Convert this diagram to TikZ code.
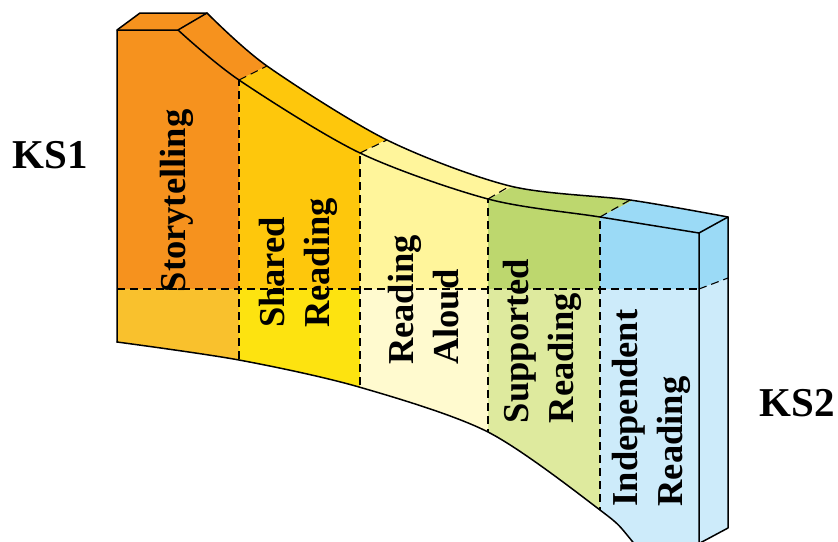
\documentclass[tikz,border=0pt]{standalone}
\usepackage{fontspec}
\setmainfont{Liberation Serif}
\definecolor{cAt}{RGB}{246,146,30}
\definecolor{cAb}{RGB}{249,193,45}
\definecolor{cBt}{RGB}{254,199,12}
\definecolor{cBb}{RGB}{253,227,16}
\definecolor{cCt}{RGB}{255,245,155}
\definecolor{cCb}{RGB}{255,250,207}
\definecolor{cDt}{RGB}{189,215,110}
\definecolor{cDb}{RGB}{222,234,158}
\definecolor{cEt}{RGB}{155,218,246}
\definecolor{cEb}{RGB}{205,235,250}
\begin{document}
\begin{tikzpicture}[x=1pt,y=-1pt,
  edge/.style={line width=1.5pt, line join=round, line cap=round},
  dline/.style={line width=1.1pt, dash pattern=on 8pt off 5pt},
  lbl/.style={rotate=90, align=left, inner sep=0pt, font=\fontsize{36.5}{45}\selectfont\bfseries},
  ks/.style={inner sep=0pt, font=\fontsize{41}{44}\selectfont\bfseries}]
\useasboundingbox (0,0) rectangle (838,541);
\clip (0,0) rectangle (838,541);
% ---------- front face ----------
\begin{scope}
\clip (117,30) -- (178,30) -- plot[smooth] coordinates {(178,30) (239,80) (360,153) (488,199) (600,217) (699,233)}
  -- (699,630) -- plot[smooth] coordinates {(699,630) (632,541) (600,510) (488,432) (359,387) (239,360) (117,342)} -- cycle;
\fill[cAt] (100,0) rectangle (239,289);
\fill[cAb] (100,289) rectangle (239,700);
\fill[cBt] (239,0) rectangle (360,289);
\fill[cBb] (239,289) rectangle (360,700);
\fill[cCt] (360,0) rectangle (488,289);
\fill[cCb] (360,289) rectangle (488,700);
\fill[cDt] (488,0) rectangle (600,289);
\fill[cDb] (488,289) rectangle (600,700);
\fill[cEt] (600,0) rectangle (720,289);
\fill[cEb] (600,289) rectangle (720,700);
\draw[dline] (239,0) -- (239,700);
\draw[dline] (360,0) -- (360,700);
\draw[dline] (488,0) -- (488,700);
\draw[dline] (600,0) -- (600,700);
\draw[dline] (117,289) -- (699,289);
\end{scope}
% ---------- top face ----------
\begin{scope}
\clip (117,30) -- (140,13) -- (207,13) -- plot[smooth] coordinates {(207,13) (267,66) (387,140) (510,186) (630,200) (728,217)}
  -- (699,233) -- plot[smooth] coordinates {(699,233) (600,217) (488,199) (360,153) (239,80) (178,30)} -- cycle;
\fill[cAt] (-500,-20) -- (439,-20) -- (-401,400) -- (-500,400) -- cycle;
\fill[cBt] (439,-20) -- (706,-20) -- (-134,400) -- (-401,400) -- cycle;
\fill[cCt] (706,-20) -- (926,-20) -- (86,400) -- (-134,400) -- cycle;
\fill[cDt] (926,-20) -- (1074,-20) -- (234,400) -- (86,400) -- cycle;
\fill[cEt] (1074,-20) -- (1500,-20) -- (1500,400) -- (234,400) -- cycle;
\draw[dline] (239,80) -- (267,66);
\draw[dline] (360,153) -- (387,140);
\draw[dline] (488,199) -- (510,186);
\draw[dline] (600,217) -- (630,200);
\end{scope}
% ---------- right face ----------
\fill[cEt] (699,233) -- (728,217) -- (728,278) -- (699,289) -- cycle;
\fill[cEb] (699,289) -- (728,278) -- (728,528) -- (700,543) -- cycle;
\draw[dline] (699,289) -- (728,278);
% ---------- outlines ----------
\draw[edge] (117,342) -- (117,30) -- (178,30) -- plot[smooth] coordinates {(178,30) (239,80) (360,153) (488,199) (600,217) (699,233)} -- (699,630);
\draw[edge] plot[smooth] coordinates {(699,630) (632,541) (600,510) (488,432) (359,387) (239,360) (117,342)};
\draw[edge] (117,30) -- (140,13) -- (207,13) -- plot[smooth] coordinates {(207,13) (267,66) (387,140) (510,186) (630,200) (728,217)};
\draw[edge] (178,30) -- (207,13);
\draw[edge] (699,233) -- (728,217) -- (728,528) -- (700,543);
% ---------- labels ----------
\node[lbl] (story) at (177,201) {Storytelling};
\node[lbl] (shared) at (298,263) {Shared\\Reading};
\node[lbl] (aloud) at (424,300) {Reading\\Aloud};
\node[lbl] (supp) at (542,341) {Supported\\Reading};
\node[lbl] (indep) at (651,408) {Independent\\Reading};
\node[ks] (ks1) at (50,155) {KS1};
\node[ks] (ks2) at (797,403) {KS2};
\end{tikzpicture}
\end{document}
